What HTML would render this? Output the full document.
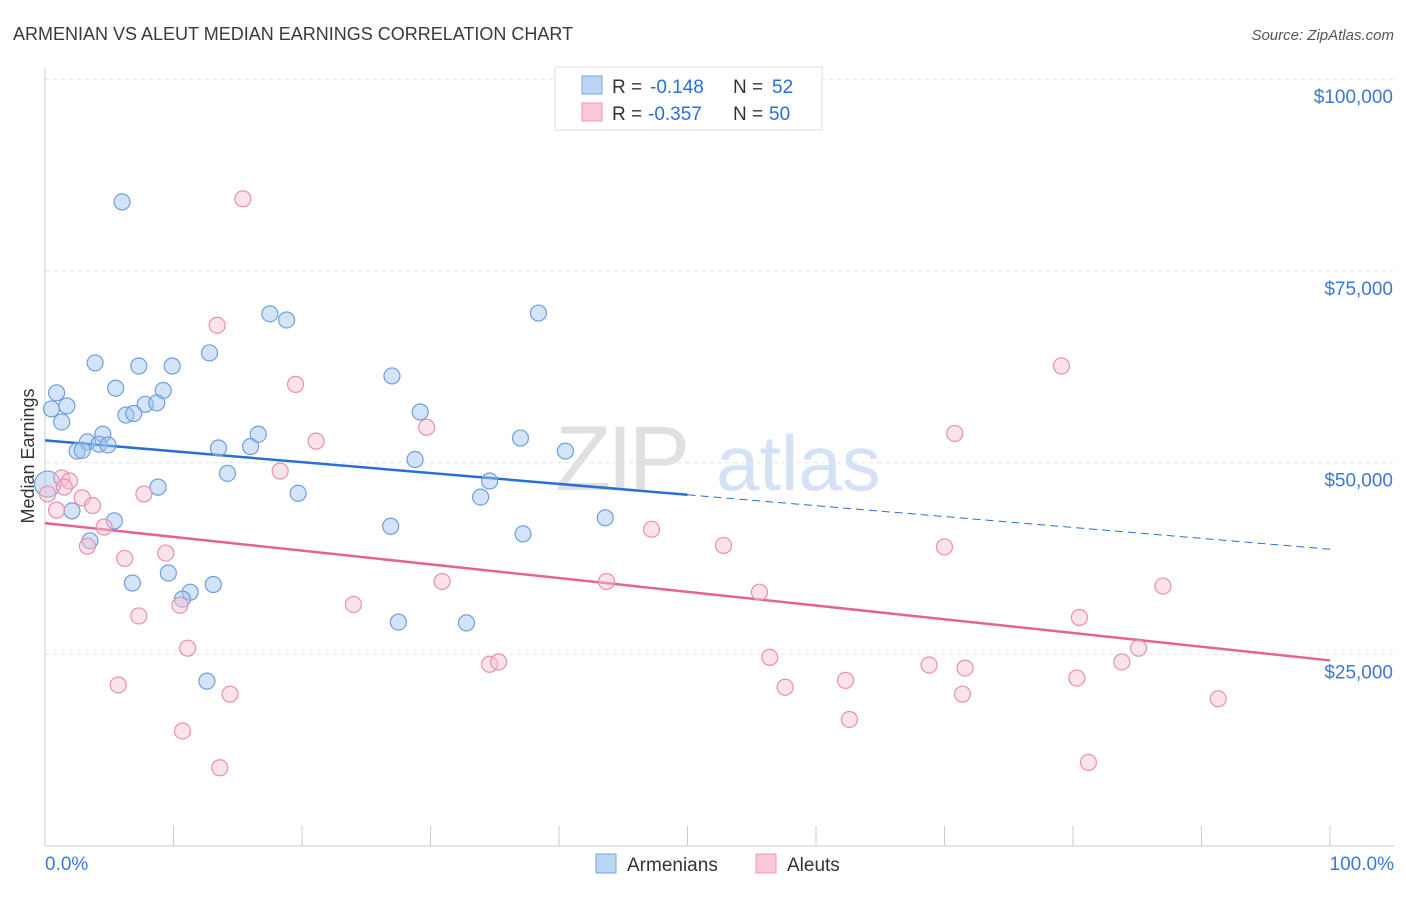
<!DOCTYPE html>
<html><head><meta charset="utf-8"><style>
body{margin:0;background:#fff;font-family:"Liberation Sans",sans-serif;}
svg text{font-family:"Liberation Sans",sans-serif;}
</style></head><body>
<svg id="chart" width="1406" height="892" xmlns="http://www.w3.org/2000/svg">
<text x="13" y="40" font-size="18" fill="#3a3a3a">ARMENIAN VS ALEUT MEDIAN EARNINGS CORRELATION CHART</text>
<text x="1394" y="40" font-size="15" fill="#555" text-anchor="end" font-style="italic">Source: ZipAtlas.com</text>
<g>
<text x="555" y="490" font-size="92" fill="#e0e0e0" font-family="Liberation Serif" letter-spacing="-4">ZIP</text>
<text x="716" y="490" font-size="78" fill="#d4e2f4">atlas</text>
</g>
<g id="grid"></g>
<g id="axes"></g>
<g id="lines"></g>
<g id="points"></g>
<text transform="translate(34,456) rotate(-90)" font-size="18" fill="#333" text-anchor="middle">Median Earnings</text>
<g>
<rect x="555" y="67" width="267" height="63" fill="#fff" stroke="#ddd"/>
<rect x="582" y="76" width="20" height="18" fill="#bcd5f5" stroke="#7aa6e0"/>
<rect x="582" y="103" width="20" height="18" fill="#fac8d8" stroke="#ec98b4"/>
<text x="612" y="93" font-size="19" fill="#333">R =</text>
<text x="650" y="93" font-size="19" fill="#2a6fd6">-0.148</text>
<text x="733" y="93" font-size="19" fill="#333">N =</text>
<text x="772" y="93" font-size="19" fill="#2a6fd6">52</text>
<text x="612" y="120" font-size="19" fill="#333">R =</text>
<text x="648" y="120" font-size="19" fill="#2a6fd6">-0.357</text>
<text x="733" y="120" font-size="19" fill="#333">N =</text>
<text x="769" y="120" font-size="19" fill="#2a6fd6">50</text>
</g>
<g>
<rect x="596" y="854" width="20" height="19" fill="#bcd5f5" stroke="#7aa6e0"/>
<text x="627" y="871" font-size="19" fill="#333">Armenians</text>
<rect x="756" y="854" width="20" height="19" fill="#fac8d8" stroke="#ec98b4"/>
<text x="787" y="871" font-size="19" fill="#333">Aleuts</text>
</g>
</svg>
<script>
const yTicks=[25000,50000,75000,100000];
const yTickLabels=["$25,000","$50,000","$75,000","$100,000"];
const xTickLabels=["0.0%","100.0%"];
const armX=[6.0,0.2,0.9,0.5,1.7,1.3,3.9,7.3,9.9,12.8,5.5,9.2,7.8,8.7,6.3,6.9,4.5,3.3,4.2,4.9,2.5,2.9,13.5,16.0,16.6,17.5,18.8,27.0,29.2,28.8,14.2,8.8,19.7,37.0,40.5,38.4,34.6,33.9,2.1,5.4,3.5,26.9,37.2,43.6,6.8,9.6,13.1,11.3,10.7,27.5,32.8,12.6];
const armY=[84000,47200,59100,57000,57400,55300,63000,62600,62600,64300,59700,59400,57600,57800,56200,56400,53700,52700,52400,52300,51500,51600,51900,52100,53700,69400,68600,61300,56600,50400,48600,46800,46000,53200,51500,69500,47600,45500,43700,42400,39800,41700,40700,42800,34300,35600,34100,33100,32200,29200,29100,21500];
const aleX=[15.4,13.4,19.5,21.1,18.3,29.7,1.3,1.9,0.2,2.9,0.9,3.7,7.7,4.6,3.3,6.2,9.4,7.3,10.5,11.1,5.7,14.4,10.7,13.6,24.0,30.9,43.7,47.2,52.8,55.6,56.4,57.6,62.3,62.6,68.8,71.6,71.4,70.8,70.0,79.1,80.5,80.3,81.2,83.8,85.1,87.0,91.3,34.6,35.3,1.5];
const aleY=[84400,67900,60200,52800,48900,54600,48000,47600,45900,45400,43800,44400,45900,41600,39100,37500,38200,30000,31400,25800,21000,19800,15000,10200,31500,34500,34500,41300,39200,33100,24600,20700,21600,16500,23600,23200,19800,53800,39000,62600,29800,21900,10900,24000,25800,33900,19200,23700,24000,46800];
const armTrend=[52900,38700];
const aleTrend=[42100,24200];
const NS="http://www.w3.org/2000/svg";
const X=p=>45+p*12.85;
const Y=v=>846-v*0.007668;
function mk(tag,attrs,parent){const e=document.createElementNS(NS,tag);for(const k in attrs)e.setAttribute(k,attrs[k]);parent.appendChild(e);return e;}
const grid=document.getElementById('grid'),axes=document.getElementById('axes'),lines=document.getElementById('lines'),pts=document.getElementById('points');
yTicks.forEach((v,i)=>{
 const l=mk('line',{x1:45,x2:1394,y1:Y(v),y2:Y(v),stroke:'#e2e2e2','stroke-dasharray':'4,4'},grid);
 
 
 const t=mk('text',{x:1393,y:Y(v)+24,'font-size':19,fill:'#3b78d8','text-anchor':'end'},axes);
 t.textContent=yTickLabels[i];
 
 
});
mk('line',{x1:45,x2:45,y1:68,y2:846,stroke:'#ccc'},axes);
mk('line',{x1:45,x2:1394,y1:846,y2:846,stroke:'#ccc'},axes);
for(let i=0;i<=10;i++){const tk=mk('line',{x1:X(i*10),x2:X(i*10),y1:826,y2:846,stroke:'#ccc'},axes);
 
 }
[[0,'start',45],[100,'end',1394]].forEach((a,i)=>{const t=mk('text',{x:a[2],y:870,'font-size':19,fill:'#3b78d8','text-anchor':a[1]},axes);t.textContent=xTickLabels[i];
 
 });
function dot(x,y,fill,stroke,r){const c=mk('circle',{cx:X(x),cy:Y(y),r:r,fill:fill,stroke:stroke,'stroke-width':1.2},pts);return c;}
armX.forEach((x,i)=>{const c=dot(x,armY[i],'rgba(160,195,240,0.45)','#6e9fdc',i==1?13:8);
 
 });
aleX.forEach((x,i)=>{const c=dot(x,aleY[i],'rgba(248,190,210,0.45)','#e890ae',8);
 
 });
const am=armTrend[0]+(armTrend[1]-armTrend[0])*0.5;
let l1=mk('line',{x1:X(0),y1:Y(armTrend[0]),x2:X(50),y2:Y(am),stroke:'#2a6fd6','stroke-width':2.5},lines);


let l2=mk('line',{x1:X(50),y1:Y(am),x2:X(100),y2:Y(armTrend[1]),stroke:'#2a6fd6','stroke-width':1,'stroke-dasharray':'8,5'},lines);


let l3=mk('line',{x1:X(0),y1:Y(aleTrend[0]),x2:X(100),y2:Y(aleTrend[1]),stroke:'#e4648f','stroke-width':2.5},lines);


</script>
</body></html>
